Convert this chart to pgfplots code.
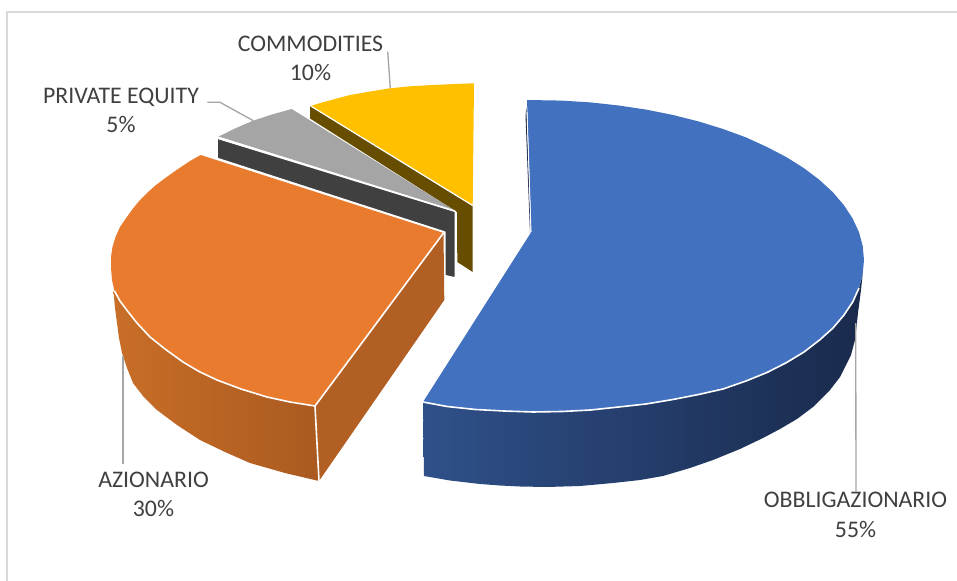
\documentclass[border=0pt]{standalone}
\usepackage{fontspec}
\setmainfont{Carlito}
\usepackage{pgfplots}
\pgfplotsset{compat=1.18}
\definecolor{bluetop}{HTML}{4271BF}
\definecolor{bluesideL}{HTML}{2F5089}
\definecolor{bluesideR}{HTML}{192A4C}
\definecolor{orangetop}{HTML}{E97B2E}
\definecolor{orangesideL}{HTML}{C86E27}
\definecolor{orangesideR}{HTML}{AA5A20}
\definecolor{orangeflat}{HTML}{B25F23}
\definecolor{graytop}{HTML}{A5A5A5}
\definecolor{grayside}{HTML}{404040}
\definecolor{yellowtop}{HTML}{FFC000}
\definecolor{yellowside}{HTML}{664D00}
\definecolor{leader}{HTML}{A6A6A6}
\definecolor{frameline}{HTML}{D9D9D9}
\definecolor{labeltext}{HTML}{404040}
\newcommand{\lbl}[3]{\node[anchor=base,inner sep=0pt,text=labeltext,font=\fontsize{17.85}{20}\selectfont] at (axis cs:#1,#2) {#3};}
\begin{document}
\begin{tikzpicture}
\begin{axis}[
  scale only axis, width=717.75pt, height=435.75pt,
  xmin=0, xmax=957, ymin=0, ymax=581, y dir=reverse,
  hide axis, clip=true,
  line join=round
]
% canvas and chart frame
\addplot[draw=none,fill=white] coordinates {(0,0)(957,0)(957,581)(0,581)} -- cycle;
\addplot[frameline,line width=1.3pt] coordinates {(7.3,581)(7.3,12.3)(957,12.3)};

% commodities wedge, 10%
\addplot[draw=none,fill=yellowside] coordinates {(310,106)(310,118.5)(457,212)(457.3,262)(472.7,272)(472.7,206)} -- cycle;
\addplot[draw=none,fill=yellowtop] coordinates {(310.7,106)(322,102.5)(335,99)(350,95)(370,91.5)(390,88.3)(410,86.3)(433,85)(455,84)(474,83.3)(472.7,205)} -- cycle;
\addplot[white,line width=0.9pt] coordinates {(310.7,106)(472.7,205.5)};

% private equity wedge, 5%
\addplot[white,line width=0.9pt,fill=grayside] coordinates {(217.3,138.3)(217.3,158.3)(445,232)(445,275.5)(455.3,277.8)(455.3,211.5)} -- cycle;
\addplot[draw=none,fill=graytop] coordinates {(218.3,136.7)(235,128.5)(253,120.7)(272,114.5)(291.7,109)(455,210.7)} -- cycle;
\addplot[white,line width=1pt] coordinates {(218.3,137.2)(455,211)};

% azionario wedge, 30%
\addplot[draw=none,fill=orangeflat] coordinates {(315,406)(443.5,233)(444.3,300)(319,481)} -- cycle;
\addplot[draw=none,left color=orangesideL,right color=orangesideR] coordinates {(113.5,291)(120,301)(126.7,310)(137,323)(150,337)(165,349)(183,362)(199,371.5)(217,380)(241,389)(267,397)(290,402)(315,406)(319,481)(285,473)(250,463)(225,452)(200,440)(177,425)(157,410)(143,396)(133,383)(127,368)(122,353)(119,338)(117,323)(115,308)} -- cycle;
\addplot[draw=none,fill=orangetop] coordinates {(200.7,155)(190,161)(178,169)(166.7,177)(156,185)(147,193)(140,200)(133,208.5)(126.5,217.5)(120,227)(115.5,237)(112.5,247)(111,257)(111,268)(112,280)(114.5,291)(120,301)(126.7,310)(137,323)(150,337)(165,349)(183,362)(199,371.5)(217,380)(241,389)(267,397)(290,402)(315,406)(443.5,233)} -- cycle;
\addplot[white,line width=1.2pt] coordinates {(114.5,291)(120,301)(126.7,310)(137,323)(150,337)(165,349)(183,362)(199,371.5)(217,380)(241,389)(267,397)(290,402)(315,406)(443.5,233)};
\addplot[white,line width=1.2pt] coordinates {(315,406)(319,481)};

% obbligazionario wedge, 55%
\addplot[draw=none,fill=bluesideR] coordinates {(525.5,115)(526.5,108)(530.5,225)(530,233)} -- cycle;
\addplot[draw=none,left color=bluesideL,middle color=bluesideR,right color=bluesideR] coordinates {(423,402)(447,406.5)(475.5,409.5)(504,411)(533,412)(562,411.5)(590.5,410)(618.7,407)(646,404)(673,399.5)(698.5,394.5)(723,389)(746,381)(767,372.5)(786.5,362.6)(804,352)(819.6,340)(833,328)(844,315)(852.7,302)(859,288)(862.7,274)(861,290)(858,313)(855,340)(851,355)(847,363)(840,377)(830,390)(813,407)(797,419)(780,429)(763,438)(740,449)(713,460)(690,468)(663,476)(640,480)(613,483)(580,486)(546.7,487)(520,486.5)(500,485.5)(480,484)(450,480.5)(424,476)} -- cycle;
\addplot[draw=none,fill=bluetop] coordinates {(527,100)(561.8,100.6)(590.5,102.4)(618.7,105.5)(646,109.6)(673,115)(698.5,121.4)(723,129)(746,137.4)(767,147)(786.5,157.2)(804,168.2)(819.6,180)(833,192.4)(844,205.3)(852.7,218.6)(859,232.2)(862.7,246)(864,260)(862.7,274)(859,288)(852.7,302)(844,315)(833,328)(819.6,340)(804,352)(786.5,362.6)(767,372.5)(746,381)(723,389)(698.5,394.5)(673,399.5)(646,404)(618.7,407)(590.5,410)(562,411.5)(533,412)(504,411)(475.5,409.5)(447,406.5)(423,402)(531.3,232)} -- cycle;
\addplot[white,line width=1.2pt] coordinates {(859,288)(852.7,302)(844,315)(833,328)(819.6,340)(804,352)(786.5,362.6)(767,372.5)(746,381)(723,389)(698.5,394.5)(673,399.5)(646,404)(618.7,407)(590.5,410)(562,411.5)(533,412)(504,411)(475.5,409.5)(447,406.5)(423,402)};
\addplot[white,line width=0.7pt] coordinates {(527,112)(531,232)};

% leader lines
\addplot[leader,line width=1pt] coordinates {(387.7,51.7)(390.3,88)};
\addplot[leader,line width=1pt] coordinates {(207.3,102.3)(220,102.3)(253.3,120.7)};
\addplot[leader,line width=1pt] coordinates {(123,355.7)(123,464)};
\addplot[leader,line width=1pt] coordinates {(855.7,323)(856,491.7)};

% data labels
\lbl{310.5}{51.5}{COMMODITIES}
\lbl{310.5}{81}{10\%}
\lbl{121}{103.5}{PRIVATE EQUITY}
\lbl{121}{133}{5\%}
\lbl{153.5}{487}{AZIONARIO}
\lbl{153.5}{516}{30\%}
\lbl{855.5}{507.5}{OBBLIGAZIONARIO}
\lbl{855.5}{537}{55\%}
\end{axis}
\end{tikzpicture}
\end{document}
